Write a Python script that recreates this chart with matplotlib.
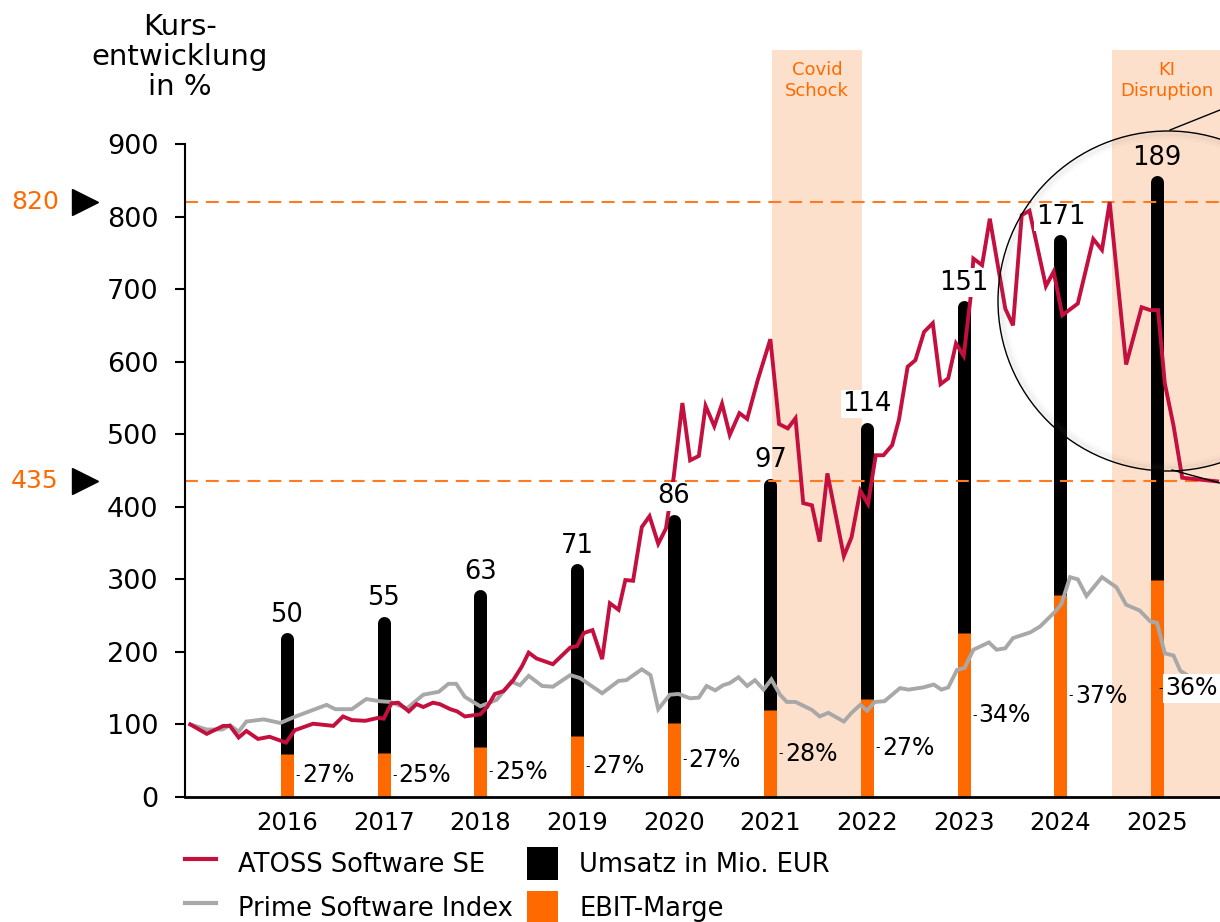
import matplotlib
matplotlib.use("Agg")
import matplotlib.pyplot as plt
import matplotlib.transforms as mtransforms
from matplotlib.lines import Line2D
from matplotlib.patches import Ellipse, Patch

plt.rcParams["font.family"] = ["DejaVu Sans"]

RED = "#C4103F"
GRAY = "#A8A8A8"
ORANGE = "#FF6A00"
PEACH = "#FDE0CB"

# --- data ---

years = [2016, 2017, 2018, 2019, 2020, 2021, 2022, 2023, 2024, 2025]
revenue = [50, 55, 63, 71, 86, 97, 114, 151, 171, 189]          # Mio. EUR
ebit_margin = [27, 25, 25, 27, 27, 28, 27, 34, 37, 36]          # %

atoss_t = [2015.0, 2015.17, 2015.34, 2015.41, 2015.5, 2015.58, 2015.7, 2015.82, 2015.99,
           2016.08, 2016.27, 2016.48, 2016.58, 2016.67, 2016.81, 2016.94,
           2017.0, 2017.08, 2017.15, 2017.26, 2017.34, 2017.41, 2017.51, 2017.58, 2017.69, 2017.76, 2017.84,
           2018.0, 2018.07, 2018.15, 2018.24, 2018.34, 2018.43, 2018.5, 2018.58, 2018.75, 2018.93,
           2019.0, 2019.07, 2019.16, 2019.26, 2019.34, 2019.43, 2019.5, 2019.58, 2019.67, 2019.75, 2019.84, 2019.92,
           2020.0, 2020.09, 2020.17, 2020.26, 2020.33, 2020.42, 2020.5, 2020.58, 2020.68, 2020.76, 2020.87,
           2021.0, 2021.09, 2021.18, 2021.26, 2021.34, 2021.43, 2021.51, 2021.59, 2021.76, 2021.84, 2021.93,
           2022.01, 2022.09, 2022.17, 2022.26, 2022.33, 2022.42, 2022.5, 2022.59, 2022.68, 2022.76, 2022.84, 2022.92,
           2023.0, 2023.07, 2023.1, 2023.19, 2023.27, 2023.43, 2023.51, 2023.6, 2023.68, 2023.85, 2023.93,
           2024.02, 2024.18, 2024.34, 2024.43, 2024.51, 2024.68, 2024.84, 2024.93,
           2025.01, 2025.08, 2025.17, 2025.26, 2025.62]
atoss_v = [100, 87, 98, 98, 82, 91, 80, 83, 75,
           92, 101, 98, 111, 106, 105, 109,
           108, 129, 130, 118, 128, 124, 130, 128, 121, 118, 111,
           114, 124, 142, 146, 161, 180, 199, 191, 183, 206,
           208, 226, 230, 190, 267, 258, 299, 298, 372, 387, 349, 370,
           441, 543, 464, 470, 539, 511, 542, 499, 529, 521, 575,
           631, 514, 508, 522, 405, 402, 352, 446, 332, 358, 422,
           404, 471, 471, 485, 520, 593, 602, 641, 653, 569, 577, 625,
           608, 687, 742, 733, 797, 673, 650, 802, 808, 704, 724,
           664, 680, 769, 754, 820, 596, 675, 671,
           671, 570, 512, 440, 435]

prime_t = [2015.0, 2015.17, 2015.33, 2015.41, 2015.5, 2015.58, 2015.76, 2015.93,
           2016.07, 2016.27, 2016.41, 2016.5, 2016.67, 2016.82, 2016.96,
           2017.07, 2017.24, 2017.41, 2017.57, 2017.67, 2017.75, 2017.84,
           2018.0, 2018.17, 2018.32, 2018.41, 2018.5, 2018.64, 2018.75, 2018.93,
           2019.03, 2019.26, 2019.43, 2019.51, 2019.67, 2019.76, 2019.84, 2019.96,
           2020.05, 2020.17, 2020.26, 2020.34, 2020.43, 2020.51, 2020.58, 2020.67, 2020.76, 2020.84, 2020.93,
           2021.01, 2021.1, 2021.17, 2021.26, 2021.43, 2021.51, 2021.6, 2021.76, 2021.84, 2021.93,
           2022.0, 2022.08, 2022.18, 2022.34, 2022.43, 2022.58, 2022.69, 2022.77, 2022.84, 2022.93,
           2023.01, 2023.1, 2023.26, 2023.34, 2023.43, 2023.51, 2023.69, 2023.79, 2023.95,
           2024.01, 2024.1, 2024.18, 2024.27, 2024.43, 2024.58, 2024.68, 2024.82, 2024.93,
           2025.0, 2025.08, 2025.17, 2025.24, 2025.4]
prime_v = [100, 93, 93, 99, 90, 104, 107, 102,
           110, 120, 127, 121, 121, 135, 132,
           131, 122, 141, 145, 156, 156, 138,
           125, 134, 159, 154, 167, 153, 152, 168,
           164, 143, 160, 161, 176, 168, 121, 141,
           142, 136, 137, 153, 147, 154, 157, 165, 153, 161, 148,
           162, 141, 131, 131, 120, 111, 116, 104, 116, 127,
           119, 131, 132, 150, 148, 151, 155, 148, 151, 175,
           178, 203, 213, 203, 205, 219, 227, 235, 256,
           266, 303, 300, 277, 303, 289, 265, 257, 242,
           240, 198, 195, 174, 160]

price_levels = [820, 435]
shocks = [(2021.02, 2021.95, "Covid\nSchock"), (2024.535, 2025.66, "KI\nDisruption")]

BAR_SCALE = 4.53     # revenue -> axis units (top of the rounded bar)
EBIT_SCALE = 4.4

# --- figure ---

W, H = 1220, 922
fig = plt.figure(figsize=(W / 100, H / 100), dpi=100)
ax = fig.add_axes([185 / W, 1 - 797 / H, 1 - 185 / W, (797 - 50) / H])
ax.set_xlim(2014.945, 2025.651)
ax.set_ylim(0, 1029.5)

units_per_px = 1029.5 / (797 - 50)
bar_px = 13
cap = bar_px / 2 * units_per_px

for x0, x1, label in shocks:
    ax.axvspan(x0, x1, color=PEACH, lw=0, zorder=0)
    ax.text((x0 + x1) / 2, 988, label, color=ORANGE, fontsize=13, ha="center",
            va="center", linespacing=1.2, zorder=1)

for yr, rev, m in zip(years, revenue, ebit_margin):
    top = rev * BAR_SCALE
    ebit = rev * m / 100 * EBIT_SCALE
    ax.plot([yr, yr], [0, top - cap], color="black", lw=bar_px * 0.72,
            solid_capstyle="round", zorder=2)
    ax.plot([yr, yr], [0, ebit], color=ORANGE, lw=bar_px * 0.72,
            solid_capstyle="butt", zorder=2.1)
    box = None if yr in (2021, 2025) else dict(facecolor="white", edgecolor="none", pad=1)
    ax.text(yr, top + 7, str(rev), ha="center", va="bottom", fontsize=18.5,
            bbox=box, zorder=5)
    last = yr == years[-1]
    off = 0.085 if last else 0.155
    ax.text(yr + off - 0.07, ebit / 2, "-", ha="left", va="center", fontsize=9, zorder=5)
    pbox = dict(facecolor="white", edgecolor="none", pad=1.5) if last else None
    ax.text(yr + off, ebit / 2, f"{m}%", ha="left", va="center", fontsize=17,
            bbox=pbox, zorder=5)

for lvl in price_levels:
    ax.axhline(lvl, color="#FF7A20", lw=1.5, dashes=(6.2, 3.8), zorder=2.5)

ax.plot(prime_t, prime_v, color=GRAY, lw=2.8, zorder=3, solid_joinstyle="miter")
ax.plot(atoss_t, atoss_v, color=RED, lw=2.8, zorder=3.2, solid_joinstyle="miter")

# level markers left of the axis
trans = mtransforms.blended_transform_factory(ax.transAxes, ax.transData)
for lvl in price_levels:
    ax.text((35 - 185) / 1035, lvl, str(lvl), color=ORANGE, fontsize=18,
            ha="center", va="center", transform=trans, clip_on=False)
    ax.plot([(85 - 185) / 1035], [lvl], marker=">", ms=19, color="black",
            transform=trans, clip_on=False, lw=0)

# axes styling
for side in ("top", "right"):
    ax.spines[side].set_visible(False)
ax.spines["left"].set_bounds(0, 900)
ax.spines["left"].set_linewidth(1.5)
ax.spines["bottom"].set_linewidth(2)
ax.set_yticks(range(0, 901, 100))
ax.set_xticks(years)
ax.tick_params(axis="y", length=7, width=1.5, pad=12, labelsize=19.5)
ax.tick_params(axis="x", length=0, pad=10, labelsize=17.5)

fig.text(180 / W, 1 - 57 / H, "Kurs-\nentwicklung\nin %", ha="center", va="center",
         fontsize=21, linespacing=1.1)

# magnifier circle around the latest drop
for shrink, alpha in ((4, 0.05), (8, 0.035), (12, 0.02)):
    fig.add_artist(Ellipse((1168 / W, 1 - 301 / H), (340 - shrink) / W, (340 - shrink) / H,
                           transform=fig.transFigure, fill=False, ec="#777777", lw=4,
                           alpha=alpha, zorder=6))
fig.add_artist(Ellipse((1168 / W, 1 - 301 / H), 340 / W, 340 / H, transform=fig.transFigure,
                       fill=False, ec="black", lw=1, zorder=6))
fig.add_artist(Line2D([1170 / W, 1 / 1], [1 - 130 / H, 1 - 110 / H], transform=fig.transFigure,
                      color="black", lw=1, zorder=6))
fig.add_artist(Line2D([1172 / W, 1 / 1], [1 - 470 / H, 1 - 483 / H], transform=fig.transFigure,
                      color="black", lw=1, zorder=6))

handles = [Line2D([], [], color=RED, lw=3),
           Line2D([], [], color=GRAY, lw=3),
           Patch(facecolor="black"),
           Patch(facecolor=ORANGE)]
labels = ["ATOSS Software SE", "Prime Software Index", "Umsatz in Mio. EUR", "EBIT-Marge"]
fig.legend(handles, labels, ncol=2, loc="upper left", bbox_to_anchor=(185 / W, 1 - 847 / H),
           frameon=False, fontsize=18.5, handlelength=1.2, handleheight=1.6,
           handletextpad=0.85, columnspacing=0.55, labelspacing=0.42, borderpad=0,
           borderaxespad=0)

fig.savefig("out.png", dpi=100)
